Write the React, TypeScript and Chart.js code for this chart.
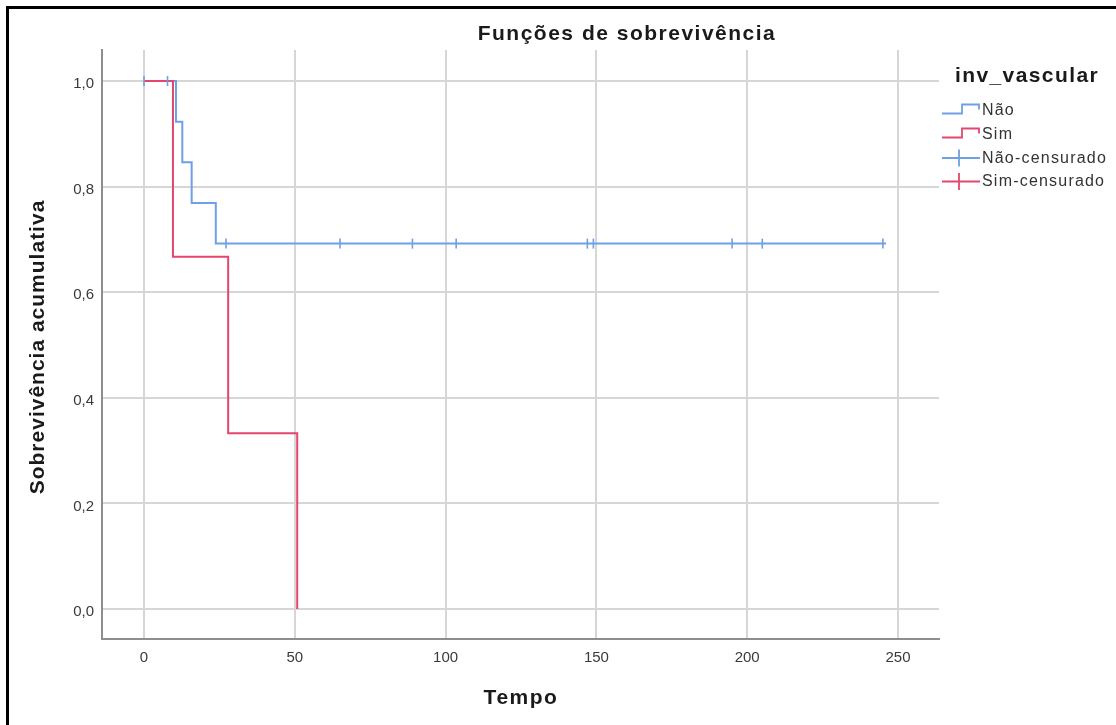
import React, { useEffect, useRef } from 'react';
import { Chart, registerables } from 'chart.js';

Chart.register(...registerables);

// ---- Text ----
const chartTitle = 'Funções de sobrevivência';
const xAxisTitle = 'Tempo';
const yAxisTitle = 'Sobrevivência acumulativa';
const legendTitle = 'inv_vascular';
const seriesNames = ['Não', 'Sim'];
const censorNames = ['Não-censurado', 'Sim-censurado'];

// ---- Ticks ----
const xTicks = [0, 50, 100, 150, 200, 250];
const yTicks = [0, 0.2, 0.4, 0.6, 0.8, 1.0];

// ---- Series: Não ----
const naoTimes = [0, 10.6, 12.7, 15.8, 23.8, 246];
const naoSurvival = [1, 0.923, 0.846, 0.769, 0.692, 0.692];
const naoCensorTimes = [0, 7.8, 27.2, 65, 89, 103.5, 147, 149, 195, 205, 245];
const naoCensorSurvival = [1, 1, 0.692, 0.692, 0.692, 0.692, 0.692, 0.692, 0.692, 0.692, 0.692];

// ---- Series: Sim ----
const simTimes = [0, 9.6, 27.9, 50.8];
const simSurvival = [1, 0.667, 0.333, 0];
const simCensorTimes: number[] = [];
const simCensorSurvival: number[] = [];

const BLUE = '#6f9fe6';
const RED = '#e5466e';
const FONT = '"Liberation Sans", Arial, sans-serif';

const toPoints = (xs: number[], ys: number[]) => xs.map((x, i) => ({ x, y: ys[i] }));

const decorPlugin = {
  id: 'decor',
  afterDraw(chart: any) {
    const ctx: CanvasRenderingContext2D = chart.ctx;
    ctx.save();
    // outer frame (left and top)
    ctx.fillStyle = '#000';
    ctx.fillRect(6, 6, 1110, 3);
    ctx.fillRect(6, 6, 3, 719);

    const setSpacing = (s: string) => {
      try { (ctx as any).letterSpacing = s; } catch (e) {}
    };

    // Title
    ctx.fillStyle = '#1a1a1a';
    ctx.font = `bold 21px ${FONT}`;
    setSpacing('1.5px');
    ctx.textAlign = 'center';
    ctx.textBaseline = 'middle';
    ctx.fillText(chartTitle, 627, 34);

    // X title
    ctx.fillText(xAxisTitle, 521, 698);

    // Y title
    ctx.save();
    ctx.translate(38, 347);
    ctx.rotate(-Math.PI / 2);
    setSpacing('1px');
    ctx.fillText(yAxisTitle, 0, 0);
    ctx.restore();

    // Legend title
    setSpacing('1.4px');
    ctx.textAlign = 'left';
    ctx.fillText(legendTitle, 955, 76);

    // Legend items
    ctx.font = `16px ${FONT}`;
    setSpacing('1.2px');
    const labels = [seriesNames[0], seriesNames[1], censorNames[0], censorNames[1]];
    const ys = [111, 135, 158.5, 182];
    const cols = [BLUE, RED, BLUE, RED];
    labels.forEach((lab, i) => {
      ctx.fillStyle = '#333';
      ctx.fillText(lab, 982, ys[i]);
      ctx.strokeStyle = cols[i];
      ctx.lineWidth = 1.8;
      ctx.beginPath();
      if (i < 2) {
        const low = ys[i] + 2.5;
        const high = ys[i] - 6.5;
        ctx.moveTo(942, low);
        ctx.lineTo(962, low);
        ctx.lineTo(962, high);
        ctx.lineTo(979, high);
        ctx.lineTo(979, high + 5);
      } else {
        const yy = ys[i] - 0.5;
        ctx.moveTo(942, yy);
        ctx.lineTo(980, yy);
        ctx.moveTo(959, yy - 8.5);
        ctx.lineTo(959, yy + 8.5);
      }
      ctx.stroke();
    });
    ctx.restore();
  },
};

export default function App() {
  const ref = useRef<HTMLCanvasElement | null>(null);

  useEffect(() => {
    if (!ref.current) return;
    const chart = new Chart(ref.current, {
      type: 'line',
      data: {
        datasets: [
          {
            label: censorNames[0],
            data: toPoints(naoCensorTimes, naoCensorSurvival),
            showLine: false,
            pointStyle: 'line',
            rotation: 90,
            pointRadius: 5,
            pointBorderWidth: 1.6,
            borderColor: BLUE,
            backgroundColor: BLUE,
            order: 0,
          },
          {
            label: censorNames[1],
            data: toPoints(simCensorTimes, simCensorSurvival),
            showLine: false,
            pointStyle: 'line',
            rotation: 90,
            pointRadius: 5,
            pointBorderWidth: 1.6,
            borderColor: RED,
            backgroundColor: RED,
            order: 1,
          },
          {
            label: seriesNames[1],
            data: toPoints(simTimes, simSurvival),
            stepped: true,
            borderColor: RED,
            borderWidth: 2,
            pointRadius: 0,
            fill: false,
            order: 2,
          },
          {
            label: seriesNames[0],
            data: toPoints(naoTimes, naoSurvival),
            stepped: true,
            borderColor: BLUE,
            borderWidth: 2,
            pointRadius: 0,
            fill: false,
            order: 3,
          },
        ],
      },
      options: {
        responsive: false,
        animation: false,
        events: [],
        layout: { padding: { left: 0, top: 50, right: 177, bottom: 0 } },
        plugins: {
          legend: { display: false },
          title: { display: false },
          tooltip: { enabled: false },
        },
        scales: {
          x: {
            type: 'linear',
            min: -13.93,
            max: 263.6,
            afterBuildTicks: (s: any) => {
              s.ticks = xTicks.map((v) => ({ value: v }));
            },
            afterFit: (s: any) => {
              s.height = 86;
            },
            grid: { color: '#d6d6d6', lineWidth: 2, drawTicks: false },
            border: { display: true, color: '#8e8e8e', width: 2 },
            ticks: {
              font: { family: FONT, size: 15 },
              color: '#3a3a3a',
              padding: 10,
              maxRotation: 0,
              autoSkip: false,
              callback: (v: any) => String(v),
            },
          },
          y: {
            type: 'linear',
            min: -0.0568,
            max: 1.0587,
            afterBuildTicks: (s: any) => {
              s.ticks = yTicks.map((v) => ({ value: v }));
            },
            afterFit: (s: any) => {
              s.width = 102;
            },
            grid: { color: '#d6d6d6', lineWidth: 2, drawTicks: false },
            border: { display: true, color: '#8e8e8e', width: 2 },
            ticks: {
              font: { family: FONT, size: 15 },
              color: '#3a3a3a',
              padding: 8,
              labelOffset: 3,
              autoSkip: false,
              callback: (v: any) => Number(v).toFixed(1).replace('.', ','),
            },
          },
        },
      },
      plugins: [decorPlugin],
    } as any);
    return () => chart.destroy();
  }, []);

  return (
    <div style={{ position: 'absolute', left: 0, top: 0, width: 1116, height: 725, background: '#fff' }}>
      <canvas ref={ref} width={1116} height={725} style={{ display: 'block' }} />
    </div>
  );
}
